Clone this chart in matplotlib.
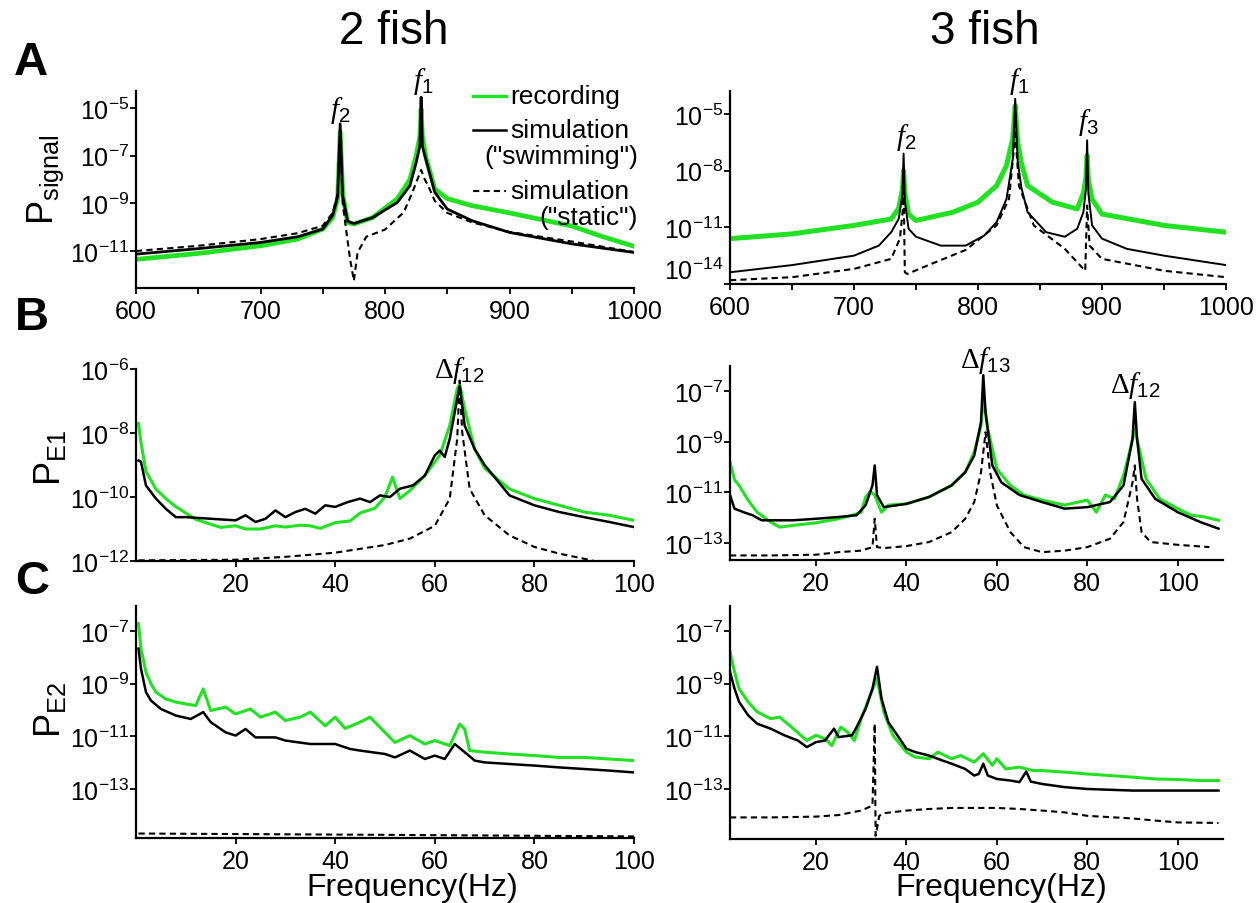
import matplotlib
matplotlib.use("Agg")
import matplotlib.pyplot as plt
from matplotlib import font_manager
from matplotlib.lines import Line2D
from matplotlib.ticker import NullLocator

W, H = 1258, 904
GREEN = "#22e022"

names = {f.name for f in font_manager.fontManager.ttflist}
SANS = "Liberation Sans" if "Liberation Sans" in names else "DejaVu Sans"
SERIF = "Liberation Serif" if "Liberation Serif" in names else "DejaVu Serif"

plt.rcParams.update({
    "font.family": SANS,
    "mathtext.fontset": "custom",
    "mathtext.rm": SERIF,
    "mathtext.it": SERIF + ":italic",
    "mathtext.sf": SANS,
    "mathtext.bf": SANS + ":bold",
    "mathtext.default": "sf",
})

# --------- DATA (frequency in Hz, log10 of power) ---------
# A, 2 fish: signal spectrum
aL_rec_f = [600, 650, 700, 730, 750, 758, 762, 764, 766, 770, 775, 790, 810, 820, 825, 828, 829, 830, 833, 840, 850, 870, 900, 950, 975, 1000]
aL_rec_p = [-11.35, -11.1, -10.78, -10.5, -10.08, -9.6, -8.8, -6.0, -8.6, -9.8, -9.87, -9.6, -8.8, -8.0, -7.0, -6.2, -5.04, -6.2, -7.1, -8.4, -8.8, -9.1, -9.4, -9.95, -10.4, -10.8]
aL_swim_f = [600, 650, 700, 730, 750, 758, 762, 764, 766, 770, 775, 790, 810, 820, 825, 828, 829, 830, 832, 840, 850, 870, 900, 950, 1000]
aL_swim_p = [-11.13, -10.9, -10.64, -10.4, -10.08, -9.5, -8.7, -5.67, -8.7, -9.75, -9.85, -9.6, -8.96, -8.26, -7.3, -6.6, -4.55, -6.6, -7.0, -8.54, -9.24, -9.73, -10.22, -10.7, -11.06]
aL_stat_f = [600, 650, 700, 730, 750, 758, 762, 764, 766, 769, 772, 775, 778, 785, 800, 815, 822, 826, 829, 832, 835, 840, 850, 870, 900, 950, 1000]
aL_stat_p = [-11.0, -10.78, -10.5, -10.25, -9.94, -9.4, -8.6, -6.0, -9.0, -10.2, -11.35, -12.25, -11.06, -10.4, -10.1, -9.38, -8.54, -8.0, -7.6, -8.0, -8.3, -8.9, -9.4, -9.8, -10.2, -10.6, -11.04]

# A, 3 fish: signal spectrum
aR_rec_f = [600, 650, 700, 730, 736, 739, 740, 741, 744, 750, 780, 800, 815, 823, 828, 830, 832, 835, 840, 860, 880, 885, 887, 888, 889, 892, 900, 950, 1000]
aR_rec_p = [-11.6, -11.35, -10.9, -10.56, -10.0, -9.0, -8.0, -9.2, -10.3, -10.64, -10.2, -9.67, -8.8, -7.73, -6.3, -4.56, -6.5, -7.6, -8.8, -9.67, -10.03, -9.2, -8.4, -7.2, -8.5, -9.5, -10.3, -10.9, -11.26]
aR_swim_f = [600, 650, 700, 720, 730, 736, 739, 740, 741, 744, 750, 770, 790, 805, 815, 823, 828, 830, 832, 835, 840, 855, 870, 880, 885, 887, 888, 889, 892, 900, 920, 950, 1000]
aR_swim_p = [-13.38, -13.0, -12.5, -11.97, -11.26, -10.56, -9.3, -7.1, -9.6, -11.08, -11.5, -11.97, -11.97, -11.44, -10.73, -9.5, -7.4, -4.2, -7.5, -8.9, -10.2, -11.26, -11.5, -11.08, -10.2, -9.0, -6.4, -9.2, -10.9, -11.6, -12.14, -12.5, -13.0]
aR_stat_f = [600, 650, 700, 730, 737, 739.5, 740, 741, 743, 760, 790, 815, 825, 829, 830, 831, 833, 845, 870, 885, 886.5, 888, 890, 900, 950, 1000]
aR_stat_p = [-13.8, -13.64, -13.2, -12.67, -11.6, -10.0, -8.8, -13.38, -13.47, -13.0, -12.2, -10.9, -9.5, -6.85, -5.0, -6.9, -8.8, -10.9, -12.14, -13.2, -13.3, -9.85, -11.97, -12.67, -13.3, -13.64]

# B, 2 fish: electrode 1
bL_rec_f = [0.5, 1, 2, 4, 6, 8, 10, 12, 15, 17, 20, 22, 25, 28, 30, 33, 35, 37, 40, 43, 45, 48, 50, 51.5, 53, 55, 58, 61, 63, 64.5, 65, 66, 68, 70, 75, 80, 85, 90, 95, 100]
bL_rec_p = [-7.7, -8.3, -9.2, -9.75, -10.05, -10.3, -10.5, -10.7, -10.85, -10.95, -10.9, -11.0, -11.0, -10.9, -10.94, -10.88, -10.9, -10.98, -10.8, -10.75, -10.5, -10.35, -10.0, -9.38, -10.05, -9.8, -9.33, -8.7, -7.77, -6.62, -6.47, -7.25, -8.5, -9.1, -9.75, -10.05, -10.26, -10.47, -10.57, -10.73]
bL_swim_f = [0.5, 1, 2, 4, 6, 8, 10, 15, 20, 22, 24, 26, 28, 30, 32, 34, 36, 38, 40, 42.5, 45, 47, 49, 51, 53, 55.6, 58, 60, 61, 62, 63, 64.5, 65, 66, 68, 70, 75, 80, 85, 90, 95, 100]
bL_swim_p = [-8.86, -8.9, -9.64, -10.05, -10.37, -10.63, -10.63, -10.68, -10.73, -10.57, -10.78, -10.68, -10.42, -10.63, -10.47, -10.37, -10.52, -10.26, -10.31, -10.16, -10.05, -10.16, -9.95, -10.0, -9.74, -9.64, -9.33, -8.7, -8.55, -8.75, -8.18, -6.94, -6.52, -7.77, -8.5, -9.0, -9.95, -10.26, -10.47, -10.63, -10.78, -10.94]
bL_stat_f = [0.5, 20, 30, 40, 50, 55, 60, 63, 64.5, 65, 65.5, 67, 70, 75, 80, 85, 90, 92]
bL_stat_p = [-11.98, -11.96, -11.87, -11.74, -11.5, -11.3, -10.9, -10.05, -8.18, -6.36, -7.97, -9.74, -10.57, -11.2, -11.56, -11.77, -11.93, -12.0]

# B, 3 fish: electrode 1
bR_rec_f = [1, 2, 3, 5, 7, 10, 12, 15, 20, 25, 28, 30, 31, 32, 33, 34.5, 36, 40, 45, 50, 53, 55, 56.5, 57, 58, 60, 63, 66, 70, 75, 80, 82, 84, 86, 88, 89.5, 90.5, 91.5, 93, 96, 100, 103, 106, 109]
bR_rec_p = [-9.8, -10.5, -10.72, -11.3, -11.78, -12.17, -12.37, -12.3, -12.2, -12.04, -11.9, -11.78, -11.18, -10.96, -11.1, -11.78, -11.5, -11.45, -11.18, -10.72, -10.2, -9.4, -8.35, -7.2, -8.49, -10.07, -10.72, -11.1, -11.3, -11.5, -11.3, -11.78, -11.1, -11.25, -10.33, -9.28, -8.49, -9.28, -10.46, -11.25, -11.64, -11.9, -11.97, -12.1]
bR_swim_f = [1, 2, 4, 6, 8, 10, 15, 20, 25, 29, 31, 32.5, 33, 33.5, 35, 40, 45, 50, 53, 55, 56.5, 57, 57.5, 59, 61, 65, 70, 75, 80, 85, 88, 90, 90.5, 91, 92, 95, 100, 105, 109]
bR_swim_p = [-11.1, -11.64, -11.78, -11.9, -12.1, -12.1, -12.1, -12.04, -11.97, -11.9, -11.5, -10.72, -9.93, -11.1, -11.58, -11.45, -11.18, -10.72, -10.2, -9.54, -8.22, -6.36, -7.83, -9.93, -10.6, -11.1, -11.38, -11.64, -11.58, -11.38, -10.72, -8.88, -7.43, -8.88, -10.46, -11.25, -11.78, -12.17, -12.43]
bR_stat_f = [1, 10, 20, 25, 30, 32.5, 33, 33.5, 35, 40, 45, 50, 53, 55, 56.5, 57.5, 58.5, 60, 63, 66, 70, 75, 80, 85, 88, 90, 90.5, 91, 92, 94, 100, 107]
bR_stat_p = [-13.49, -13.49, -13.46, -13.36, -13.3, -13.16, -12.04, -13.16, -13.2, -13.12, -12.96, -12.57, -12.04, -11.38, -10.2, -8.62, -10.2, -11.51, -12.57, -13.16, -13.36, -13.3, -13.16, -12.83, -12.17, -10.6, -9.93, -11.25, -12.57, -12.96, -13.07, -13.16]

# C, 2 fish: electrode 2
cL_rec_f = [0.5, 1, 2, 3, 4, 6, 8, 10, 12, 13.5, 15, 18, 20, 23, 25, 28, 30, 33, 35, 38, 40, 42, 45, 47, 50, 52, 55, 58, 60, 63, 65, 66, 67, 70, 75, 80, 85, 90, 95, 100]
cL_rec_p = [-6.72, -7.67, -8.56, -9.0, -9.32, -9.58, -9.7, -9.77, -9.83, -9.2, -10.02, -9.89, -10.15, -9.96, -10.27, -10.08, -10.4, -10.27, -10.08, -10.6, -10.27, -10.7, -10.46, -10.27, -10.85, -11.23, -10.97, -11.29, -11.16, -11.35, -10.53, -10.72, -11.54, -11.6, -11.67, -11.73, -11.8, -11.8, -11.86, -11.92]
cL_swim_f = [0.5, 1, 2, 3, 5, 8, 11, 13.5, 15, 18, 20, 22, 24, 28, 30, 35, 40, 43, 45, 50, 52, 55, 58, 60, 62, 64, 66, 68, 70, 75, 80, 85, 90, 95, 100]
cL_swim_p = [-7.67, -8.43, -9.32, -9.64, -9.96, -10.21, -10.34, -10.08, -10.46, -10.85, -10.97, -10.72, -11.04, -11.04, -11.16, -11.29, -11.29, -11.48, -11.54, -11.67, -11.8, -11.54, -11.86, -11.73, -11.86, -11.29, -11.6, -11.92, -11.99, -12.05, -12.11, -12.18, -12.24, -12.3, -12.37]
cL_stat_f = [0.5, 50, 100]
cL_stat_p = [-14.69, -14.74, -14.8]

# C, 3 fish: electrode 2
cR_rec_f = [1, 2, 3, 5, 7, 10, 12, 15, 18, 20, 22, 23.5, 25.5, 27, 28.5, 30, 32, 33.5, 35, 37, 40, 42, 45, 47, 50, 52, 55, 57, 59, 60, 62, 65, 68, 70, 75, 80, 85, 90, 95, 100, 105, 109]
cR_rec_p = [-7.79, -8.55, -9.19, -9.69, -10.07, -10.33, -10.27, -10.71, -11.16, -10.96, -11.09, -11.35, -10.65, -10.84, -11.16, -10.33, -9.44, -8.8, -10.07, -10.96, -11.6, -11.79, -11.85, -11.6, -11.85, -11.73, -11.98, -11.66, -12.1, -11.85, -12.24, -12.17, -12.3, -12.3, -12.36, -12.43, -12.49, -12.55, -12.62, -12.64, -12.68, -12.68]
cR_swim_f = [1, 2, 3, 5, 7, 10, 13, 16, 18, 20, 22, 24, 25, 28, 29, 31, 32.5, 33.5, 34.5, 36, 38, 40, 42, 45, 48, 50, 53, 55, 56, 57, 58, 60, 63, 65, 66.5, 67.5, 70, 75, 80, 90, 100, 109]
cR_swim_p = [-8.55, -9.19, -9.69, -10.2, -10.52, -10.71, -10.96, -11.16, -11.41, -11.22, -11.16, -10.71, -11.03, -10.96, -10.65, -9.95, -9.19, -8.36, -9.57, -10.46, -10.96, -11.47, -11.6, -11.73, -11.92, -12.04, -12.24, -12.49, -12.43, -12.04, -12.49, -12.62, -12.68, -12.74, -12.34, -12.72, -12.81, -12.93, -13.0, -13.06, -13.06, -13.06]
cR_stat_f = [1, 10, 20, 25, 30, 32.5, 33.0, 33.2, 34, 35, 40, 45, 50, 60, 65, 70, 75, 80, 90, 95, 100, 109]
cR_stat_p = [-14.08, -14.08, -14.05, -13.99, -13.82, -13.63, -10.52, -14.78, -14.02, -13.92, -13.82, -13.76, -13.72, -13.72, -13.76, -13.82, -13.89, -14.02, -14.12, -14.2, -14.27, -14.29]
# ----------------------------------------------------------


def frac(x, y):
    return x / W, 1 - y / H


def make_axes(fig, x0, y0, x1, y1):
    ax = fig.add_axes([x0 / W, 1 - y1 / H, (x1 - x0) / W, (y1 - y0) / H])
    for s in ("top", "right"):
        ax.spines[s].set_visible(False)
    for s in ("left", "bottom"):
        ax.spines[s].set_linewidth(1.6)
    ax.tick_params(direction="out", length=4, width=1.3, labelsize=18)
    ax.tick_params(axis="x", pad=4)
    ax.tick_params(axis="y", pad=1)
    ax.tick_params(which="minor", direction="out", length=4, width=1.3)
    return ax


def draw(ax, rec, swim, stat, xlim, ylim, yticks, xticks, xminor=None,
         lw_rec=2.2, lw_swim=1.8):
    ax.set_yscale("log")
    ax.plot(rec[0], [10 ** v for v in rec[1]], color=GREEN, lw=lw_rec)
    ax.plot(swim[0], [10 ** v for v in swim[1]], color="black", lw=lw_swim)
    ax.plot(stat[0], [10 ** v for v in stat[1]], color="black", lw=1.5,
            ls=(0, (3, 2)))
    ax.set_xlim(*xlim)
    ax.set_ylim(10 ** ylim[0], 10 ** ylim[1])
    ax.set_yticks([10.0 ** v for v in yticks])
    ax.set_yticklabels([r"$10^{%d}$" % v for v in yticks])
    ax.yaxis.set_minor_locator(NullLocator())
    ax.set_xticks(xticks)
    ax.set_xticklabels([str(v) for v in xticks])
    if xminor is not None:
        ax.set_xticks(xminor, minor=True)
    else:
        ax.xaxis.set_minor_locator(NullLocator())


fig = plt.figure(figsize=(W / 100, H / 100), dpi=100)

axA1 = make_axes(fig, 136, 92, 634, 289)
draw(axA1, (aL_rec_f, aL_rec_p), (aL_swim_f, aL_swim_p), (aL_stat_f, aL_stat_p),
     (600, 1000), (-12.55, -4.29), [-5, -7, -9, -11], [600, 700, 800, 900, 1000],
     [650, 750, 850, 950], lw_rec=3.4, lw_swim=2.0)
axA2 = make_axes(fig, 730, 92, 1226, 285)
draw(axA2, (aR_rec_f, aR_rec_p), (aR_swim_f, aR_swim_p), (aR_stat_f, aR_stat_p),
     (600, 1000), (-14.0, -3.79), [-5, -8, -11, -14], [600, 700, 800, 900, 1000],
     [650, 750, 850, 950], lw_rec=3.6, lw_swim=1.4)
# lowest label sits in the corner, lift it slightly like the original
axA2.get_yticklabels()[-1].set_va("bottom")
axB1 = make_axes(fig, 136, 370, 634, 562)
draw(axB1, (bL_rec_f, bL_rec_p), (bL_swim_f, bL_swim_p), (bL_stat_f, bL_stat_p),
     (0, 100), (-12.0, -6.0), [-6, -8, -10, -12], [20, 40, 60, 80, 100])
axB2 = make_axes(fig, 730, 367, 1223, 561)
draw(axB2, (bR_rec_f, bR_rec_p), (bR_swim_f, bR_swim_p), (bR_stat_f, bR_stat_p),
     (1, 110), (-13.67, -6.0), [-7, -9, -11, -13], [20, 40, 60, 80, 100])
axC1 = make_axes(fig, 136, 607, 634, 839)
draw(axC1, (cL_rec_f, cL_rec_p), (cL_swim_f, cL_swim_p), (cL_stat_f, cL_stat_p),
     (0, 100), (-14.86, -6.05), [-7, -9, -11, -13], [20, 40, 60, 80, 100])
axC2 = make_axes(fig, 730, 607, 1223, 840)
draw(axC2, (cR_rec_f, cR_rec_p), (cR_swim_f, cR_swim_p), (cR_stat_f, cR_stat_p),
     (1, 110), (-14.9, -6.05), [-7, -9, -11, -13], [20, 40, 60, 80, 100])

# peak labels
def peak(ax, x, logy, s):
    ax.text(x, 10 ** logy, s, ha="center", va="center", fontsize=21,
            clip_on=False)

peak(axA1, 764, -5.08, r"$\mathit{f}_{2}$")
peak(axA1, 830.5, -3.87, r"$\mathit{f}_{1}$")
peak(axA2, 742, -6.2, r"$\mathit{f}_{2}$")
peak(axA2, 833, -3.26, r"$\mathit{f}_{1}$")
peak(axA2, 888.7, -5.42, r"$\mathit{f}_{3}$")
peak(axB1, 65, -6.0, r"$\mathrm{\Delta}\mathit{f}_{12}$")
peak(axB2, 57.4, -5.74, r"$\mathrm{\Delta}\mathit{f}_{13}$")
peak(axB2, 90.5, -6.72, r"$\mathrm{\Delta}\mathit{f}_{12}$")

# panel letters, titles, axis labels
for letter, (x, y) in zip("ABC", [(31, 63), (32, 318), (32, 582)]):
    fig.text(*frac(x, y), letter, fontsize=34, fontweight="bold",
             ha="center", va="center")
fig.text(*frac(394, 32), "2 fish", fontsize=33, ha="center", va="center")
fig.text(*frac(985, 32), "3 fish", fontsize=33, ha="center", va="center")

for lab, (x, y) in zip([r"$P_{signal}$", r"$P_{E1}$", r"$P_{E2}$"],
                       [(46, 180), (50, 458), (50, 710)]):
    fig.text(*frac(x, y), lab, fontsize=26, rotation=90,
             ha="center", va="center")
fig.text(*frac(412, 903), "Frequency(Hz)", fontsize=23, ha="center", va="bottom")
fig.text(*frac(1001, 903), "Frequency(Hz)", fontsize=23, ha="center", va="bottom")

# legend drawn by hand in panel A (2 fish)
leg = [(97, GREEN, "-", 2.4, "recording", None),
       (131, "black", "-", 1.8, "simulation", '("swimming")'),
       (192, "black", (0, (3, 2)), 1.5, "simulation", '("static")')]
for y, c, ls, lw, t1, t2 in leg:
    x0, yy = frac(473, y)
    x1, _ = frac(506, y)
    fig.add_artist(Line2D([x0, x1], [yy, yy], color=c, ls=ls, lw=lw,
                          transform=fig.transFigure))
    fig.text(*frac(510, y), t1, fontsize=19, ha="left", va="center")
    if t2:
        fig.text(*frac(638, y + 26), t2, fontsize=19, ha="right", va="center")

fig.savefig("out.png", dpi=100)
